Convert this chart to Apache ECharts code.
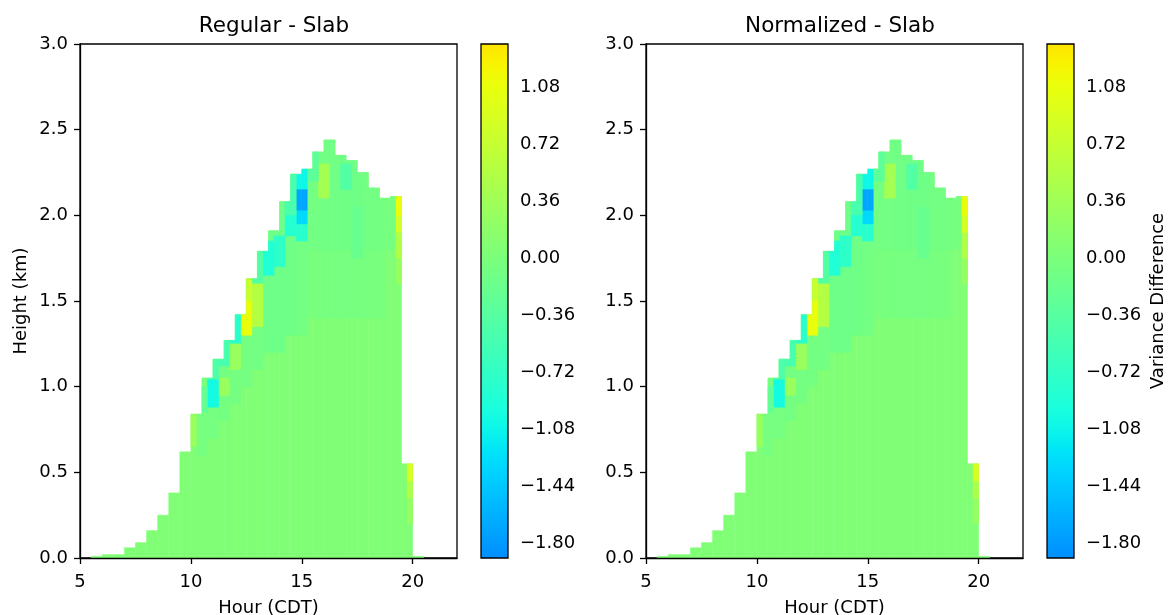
<!DOCTYPE html>
<html>
<head>
<meta charset="utf-8">
<script src="https://cdn.jsdelivr.net/npm/echarts@6/dist/echarts.min.js"></script>
<style>html,body{margin:0;background:#fff}#chart{width:1168px;height:615px}</style>
</head>
<body>
<div id="chart"></div>
<script>
// each data column is half an hour wide; colTop = highest valid height (km)
var colStart = [5.5, 6.0, 6.5, 7.0, 7.5, 8.0, 8.5, 9.0, 9.5, 10.0, 10.5, 11.0, 11.5, 12.0, 12.5,
                13.0, 13.5, 14.0, 14.5, 15.0, 15.5, 16.0, 16.5, 17.0, 17.5, 18.0, 18.5, 19.0, 19.5, 20.0];
var colTop = [0.01, 0.02, 0.02, 0.06, 0.09, 0.16, 0.25, 0.38, 0.62, 0.84, 1.05, 1.16, 1.27, 1.42, 1.63,
              1.79, 1.91, 2.08, 2.24, 2.27, 2.37, 2.44, 2.35, 2.32, 2.25, 2.16, 2.10, 2.11, 0.55, 0.01];
var baseValue = 0.05;

// [hour, low km, high km, variance difference] - both panels show the same field
var anomalies = [
    [15.5, 1.4, 1.8, -0.03], [16.0, 1.4, 1.8, -0.04], [16.5, 1.4, 1.8, -0.05], [17.0, 1.4, 1.8, -0.05],
    [17.5, 1.4, 1.8, -0.05], [18.0, 1.4, 1.8, -0.04], [18.5, 1.4, 1.8, -0.03],
    [15.5, 1.8, 2.5, -0.08], [16.0, 1.8, 2.5, -0.09], [16.5, 1.8, 2.5, -0.1], [17.0, 1.8, 2.5, -0.11],
    [17.5, 1.8, 2.5, -0.11], [18.0, 1.8, 2.5, -0.09], [18.5, 1.8, 2.5, -0.07], [19.0, 1.8, 2.5, -0.04],
    [15.0, 1.3, 1.85, -0.08], [14.5, 1.3, 2.3, -0.12], [14.0, 1.2, 2.1, -0.13], [13.5, 1.2, 1.95, -0.13],
    [13.0, 1.1, 1.8, -0.09], [12.5, 1.0, 1.65, -0.07], [12.0, 0.9, 1.42, -0.07], [11.5, 0.8, 1.27, -0.07],
    [11.0, 0.7, 1.16, -0.05], [10.5, 0.6, 1.05, -0.04],
    [17.5, 1.75, 2.05, -0.18], [17.0, 2.15, 2.3, -0.4], [16.0, 2.1, 2.3, 0.4], [15.5, 2.2, 2.37, -0.3],
    [15.0, 2.15, 2.27, -1.05], [15.0, 1.85, 1.95, -0.8], [15.0, 1.95, 2.03, -1.3], [15.0, 2.03, 2.15, -1.7],
    [14.5, 2.0, 2.24, -0.5], [14.5, 1.88, 2.0, -0.85], [14.0, 1.7, 1.88, -0.75], [13.5, 1.65, 1.85, -0.9],
    [13.0, 1.6, 1.79, -0.4], [13.0, 1.35, 1.6, 0.55], [12.5, 1.5, 1.65, 0.75], [12.5, 1.3, 1.5, 1.1],
    [12.0, 1.25, 1.42, -0.8], [12.0, 1.1, 1.25, 0.3], [11.5, 1.12, 1.27, -0.5], [11.5, 0.95, 1.05, 0.3],
    [11.0, 1.04, 1.16, -0.45], [11.0, 0.88, 1.04, -1.0], [10.5, 0.85, 1.0, -0.25], [10.0, 0.65, 0.84, 0.28],
    [19.5, 1.6, 1.75, 0.25], [19.5, 1.75, 1.9, 0.5], [19.5, 1.9, 2.0, 0.85], [19.5, 2.0, 2.11, 1.1],
    [20.0, 0.2, 0.35, 0.25], [20.0, 0.35, 0.45, 0.5], [20.0, 0.45, 0.55, 0.9]
];

var hourTicks = [5, 10, 15, 20];
var cbarTicks = [-1.80, -1.44, -1.08, -0.72, -0.36, 0.00, 0.36, 0.72, 1.08];
var titles = ['Regular - Slab', 'Normalized - Slab'];
var vMin = -1.89, vMax = 1.35;

// matplotlib jet, symmetric norm
function seg(pts, x) {
    for (var i = 1; i < pts.length; i++) {
        if (x <= pts[i][0]) {
            var t = (x - pts[i - 1][0]) / (pts[i][0] - pts[i - 1][0]);
            return pts[i - 1][1] + t * (pts[i][1] - pts[i - 1][1]);
        }
    }
    return pts[pts.length - 1][1];
}
function jet(v) {
    var x = Math.max(0, Math.min(1, 0.5 + v / 8.0));
    var r = seg([[0, 0], [0.35, 0], [0.66, 1], [0.89, 1], [1, 0.5]], x);
    var g = seg([[0, 0], [0.125, 0], [0.375, 1], [0.64, 1], [0.91, 0], [1, 0]], x);
    var b = seg([[0, 0.5], [0.11, 1], [0.34, 1], [0.65, 0], [1, 0]], x);
    return 'rgb(' + Math.round(r * 255) + ',' + Math.round(g * 255) + ',' + Math.round(b * 255) + ')';
}
var ramp = [], stops = [];
for (var i = 0; i <= 24; i++) {
    var c = jet(vMin + (vMax - vMin) * i / 24);
    ramp.push(c);
    stops.push({offset: i / 24, color: c});
}

var columns = colStart.map(function (s, i) { return [s, 0, colTop[i], baseValue]; });

function topAt(h) {
    for (var i = 0; i < colStart.length; i++) {
        if (h >= colStart[i] - 1e-6 && h < colStart[i] + 0.5 - 1e-6) return colTop[i];
    }
    return 0;
}
function cellRect(api, x0, x1, z0, z1, color) {
    var a = api.coord([x0, z1]), b = api.coord([x1, z0]);
    return {type: 'rect', shape: {x: a[0], y: a[1], width: b[0] - a[0], height: b[1] - a[1]},
            style: {fill: color, stroke: color, lineWidth: 0.5}};
}
function renderColumn(params, api) {
    var s = api.value(0);
    return cellRect(api, s, s + 0.5, api.value(1), api.value(2), api.visual('color'));
}
function renderPatch(params, api) {
    var h = api.value(0), z0 = api.value(1), z1 = api.value(2);
    var color = api.visual('color');
    var parts = [];
    [[h - 0.25, h], [h, h + 0.25]].forEach(function (span) {
        var top = Math.min(z1, topAt((span[0] + span[1]) / 2));
        if (top > z0) parts.push(cellRect(api, span[0], span[1], z0, top, color));
    });
    return {type: 'group', children: parts};
}
function renderBar(params, api) {
    var a = api.coord([0, vMax]), b = api.coord([1, vMin]);
    return {type: 'rect', shape: {x: a[0], y: a[1], width: b[0] - a[0], height: b[1] - a[1]},
            style: {fill: new echarts.graphic.LinearGradient(0, 1, 0, 0, stops), stroke: '#000', lineWidth: 1.3}};
}

var font = 'DejaVu Sans';
var txt = {color: '#000', fontSize: 18, fontFamily: font};
var line = {lineStyle: {color: '#000', width: 1.3}};
var plotLeft = [80, 646], barLeft = [481, 1047];

var option = {
    animation: false,
    title: titles.map(function (t, k) {
        return {text: t, left: plotLeft[k] + 189, top: 10, textAlign: 'center',
                textStyle: {color: '#000', fontSize: 21.5, fontWeight: 'normal', fontFamily: font}};
    }),
    visualMap: {type: 'continuous', show: false, min: vMin, max: vMax, dimension: 3,
                seriesIndex: [0, 1, 3, 4], inRange: {color: ramp}},
    grid: [],
    xAxis: [],
    yAxis: [],
    series: []
};

[0, 1].forEach(function (k) {
    option.grid.push({left: plotLeft[k], top: 44, width: 377, height: 514, show: true, outerBoundsMode: 'none',
                      borderColor: '#000', borderWidth: 1.3, backgroundColor: 'transparent'});
    option.grid.push({left: barLeft[k], top: 44, width: 27, height: 514, outerBoundsMode: 'none'});
    option.xAxis.push({gridIndex: 2 * k, type: 'value', min: 5, max: 22, z: 10,
        name: 'Hour (CDT)', nameLocation: 'middle', nameGap: 41, nameTextStyle: txt,
        axisLine: line, axisTick: {length: 6, lineStyle: {color: '#000', width: 1.3}, customValues: hourTicks},
        axisLabel: Object.assign({margin: 15, customValues: hourTicks}, txt), splitLine: {show: false}});
    option.xAxis.push({gridIndex: 2 * k + 1, type: 'value', min: 0, max: 1, show: false});
    option.yAxis.push({gridIndex: 2 * k, type: 'value', min: 0, max: 3, interval: 0.5, z: 10,
        name: k === 0 ? 'Height (km)' : '', nameLocation: 'middle', nameGap: 50, nameTextStyle: txt,
        axisLine: line, axisTick: {length: 6, lineStyle: {color: '#000', width: 1.3}},
        axisLabel: Object.assign({margin: 12, formatter: function (v) { return v.toFixed(1); }}, txt),
        splitLine: {show: false}});
    option.yAxis.push({gridIndex: 2 * k + 1, type: 'value', min: vMin, max: vMax, position: 'right',
        name: k === 1 ? 'Variance Difference' : '', nameLocation: 'middle', nameGap: 75, nameRotate: 90,
        nameTextStyle: txt, axisLine: {show: false},
        axisTick: {length: 6, lineStyle: {color: '#000', width: 1.3}, customValues: cbarTicks},
        axisLabel: Object.assign({margin: 12, customValues: cbarTicks,
            formatter: function (v) { return v.toFixed(2).replace('-', '\u2212'); }}, txt),
        splitLine: {show: false}});
    option.series.push({type: 'custom', xAxisIndex: 2 * k, yAxisIndex: 2 * k, data: columns,
                        renderItem: renderColumn, silent: true});
    option.series.push({type: 'custom', xAxisIndex: 2 * k, yAxisIndex: 2 * k, data: anomalies,
                        renderItem: renderPatch, silent: true});
    option.series.push({type: 'custom', xAxisIndex: 2 * k + 1, yAxisIndex: 2 * k + 1,
                        data: [[0, vMin]], renderItem: renderBar, silent: true});
});
// series order is [col0, patch0, bar0, col1, patch1, bar1]

var myChart = echarts.init(document.getElementById('chart'));
myChart.setOption(option);
</script>
</body>
</html>
